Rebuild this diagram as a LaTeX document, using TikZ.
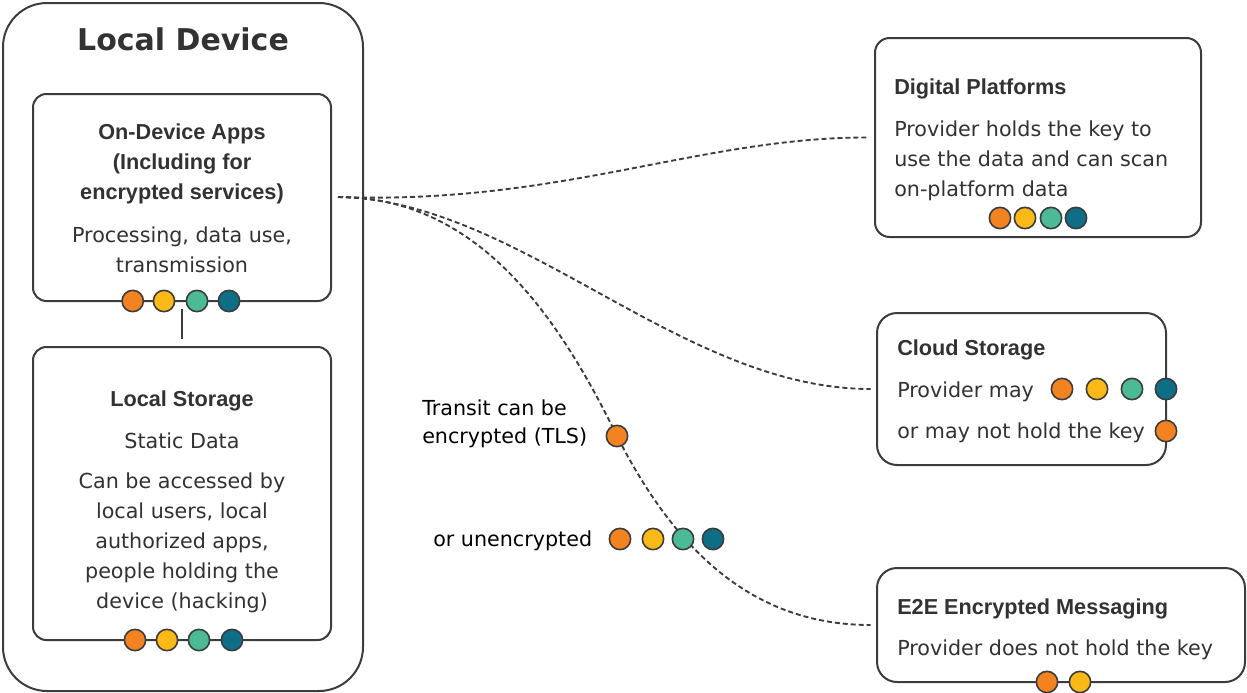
\documentclass[tikz,border=0pt]{standalone}
\usepackage{fontspec}
\setmainfont{DejaVu Sans}
\newfontfamily\headfam{Liberation Sans}
\usepackage{tikz}
\usetikzlibrary{backgrounds}
\definecolor{linegray}{RGB}{60,60,60}
\definecolor{txtgray}{RGB}{50,50,50}
\definecolor{dotorange}{RGB}{243,130,32}
\definecolor{dotyellow}{RGB}{251,185,23}
\definecolor{dotgreen}{RGB}{76,186,150}
\definecolor{dotteal}{RGB}{14,110,134}
\newcommand{\bodyfont}{\fontsize{15.5}{22.5}\selectfont}
\newcommand{\headfont}{\headfam\bfseries\fontsize{16.25}{22.5}\selectfont}
\newcommand{\titlefont}{\bfseries\fontsize{22.5}{27}\selectfont}
\tikzset{>=stealth,
  device/.style={draw=linegray, line width=1.5pt, rounded corners=33pt},
  panel/.style={draw=linegray, line width=1.5pt, rounded corners=10pt, fill=white, inner sep=0},
  head/.style={font=\headfont, text=txtgray, inner sep=0},
  body/.style={font=\bodyfont, text=txtgray, inner sep=0},
  dot/.style={circle, draw=linegray, line width=1.2pt, minimum size=16pt, inner sep=0},
  link/.style={draw=linegray, line width=1.4pt, dash pattern=on 3.75pt off 2.25pt}}

\begin{document}
\begin{tikzpicture}[x=0.75pt, y=-0.75pt]

				\useasboundingbox (0,0) rectangle (1247,693);

				% local device
				\node [device, minimum width=270pt, minimum height=516pt] (device) at (183,347) {};
				\node [font=\titlefont, text=txtgray, anchor=base] (devtitle) at (183,50) {Local Device};

				\node [panel, minimum width=223.5pt, minimum height=155.25pt] (apps) at (182,197.5) {};
				% multi-line nodes: base is the last line
				\node [head, anchor=base, align=center] (appshead) at (182,199) {On-Device Apps\\(Including for\\encrypted services)};
				\node [body, anchor=base, align=center] (appsbody) at (182,272) {Processing, data use,\\transmission};

				\node [panel, minimum width=223.5pt, minimum height=219.75pt] (storage) at (182,493.5) {};
				\node [head, anchor=base] (storehead) at (182,406) {Local Storage};
				\node [body, anchor=base] (storestatic) at (182,448) {Static Data};
				\node [body, anchor=base, align=center] (storebody) at (182,608) {Can be accessed by\\local users, local\\authorized apps,\\people holding the\\device (hacking)};

				\draw [linegray, line width=1.5pt, shorten <=5.25pt, shorten >=5.25pt] (apps.south) -- (storage.north);

				% providers
				\node [panel, rounded corners=11pt, minimum width=244.5pt, minimum height=149.25pt] (digital) at (1038,137.5) {};
				\node [head, anchor=base west] (digihead) at (894,94) {Digital Platforms};
				\node [body, anchor=base west, align=left] (digibody) at (894,196) {Provider holds the key to\\use the data and can scan\\on-platform data};

				\node [panel, rounded corners=15pt, minimum width=216.75pt, minimum height=114pt] (cloud) at (1021.5,389) {};
				\node [head, anchor=base west] (cloudhead) at (897,355) {Cloud Storage};
				\node [body, anchor=base west] (cloudmay) at (897,397) {Provider may};
				\node [body, anchor=base west] (cloudnot) at (897,438) {or may not hold the key};

				\node [panel, rounded corners=15pt, minimum width=276pt, minimum height=85.5pt] (e2e) at (1061,625) {};
				\node [head, anchor=base west] (e2ehead) at (897,614) {E2E Encrypted Messaging};
				\node [body, anchor=base west] (e2ebody) at (897,655) {Provider does not hold the key};

				% transit
				\node [font=\fontsize{15.5}{21}\selectfont, inner sep=0, anchor=base west, align=left] (transit) at (422,443) {Transit can be\\encrypted (TLS)};
				\node [font=\bodyfont, inner sep=0, anchor=base west] (unenc) at (433,546) {or unencrypted};

				% key holders
				\foreach \x/\c [count=\i] in {132.7/dotorange,164/dotyellow,197/dotgreen,229/dotteal}
					\node [dot, fill=\c] (appsdot\i) at (\x,301) {};
				\foreach \x/\c [count=\i] in {135/dotorange,167/dotyellow,199/dotgreen,232/dotteal}
					\node [dot, fill=\c] (storedot\i) at (\x,640) {};
				\foreach \x/\c [count=\i] in {1000/dotorange,1025/dotyellow,1051/dotgreen,1076/dotteal}
					\node [dot, fill=\c] (digidot\i) at (\x,218) {};
				\foreach \x/\c [count=\i] in {1062/dotorange,1097/dotyellow,1132/dotgreen,1166/dotteal}
					\node [dot, fill=\c] (clouddot\i) at (\x,389) {};
				\node [dot, fill=dotorange] (cloudnotdot) at (1166,431) {};
				\node [dot, fill=dotorange] (tlsdot) at (617,436) {};
				\foreach \x/\c [count=\i] in {620/dotorange,653/dotyellow,683/dotgreen,713/dotteal}
					\node [dot, fill=\c] (unencdot\i) at (\x,539) {};
				\foreach \x/\c [count=\i] in {1047/dotorange,1080/dotyellow}
					\node [dot, fill=\c] (e2edot\i) at (\x,682) {};

				% data flows
				\coordinate (src) at (338,197);
				\begin{scope}[on background layer]
				\draw [link, shorten >=4pt] (src) .. controls (560,205) and (700,137) .. (digital.west);
				\draw [link, shorten >=4pt] (src) .. controls (520,200) and (680,389) .. (cloud.west);
				\draw [link, shorten >=4pt] (src) .. controls (480,197) and (560,320) .. (tlsdot.center)
					.. controls (680,560) and (760,625) .. (e2e.west);
				\end{scope}

\end{tikzpicture}
\end{document}
